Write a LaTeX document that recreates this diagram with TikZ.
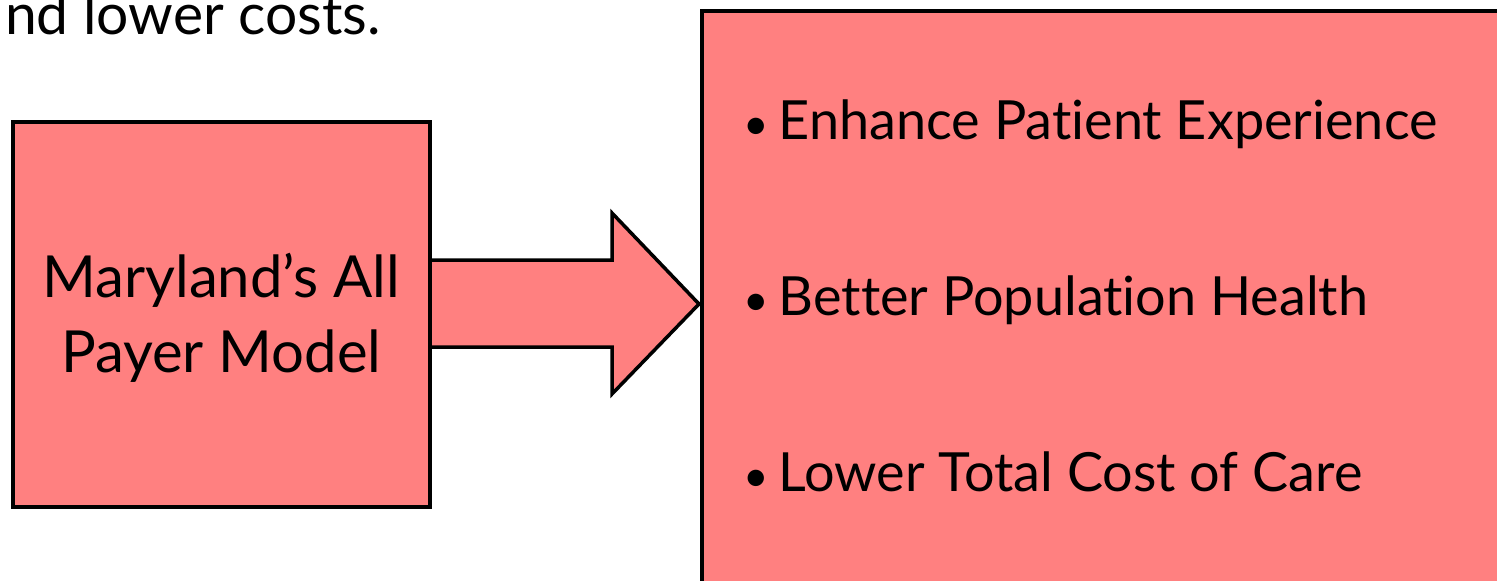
\documentclass[tikz,border=0pt]{standalone}
\usepackage{fontspec}
\setmainfont{Lato}[Ligatures={NoCommon,NoRare}]
\definecolor{boxred}{RGB}{255,128,128}
\begin{document}
\begin{tikzpicture}[x=1pt,y=-1pt,
  box/.style={draw=black,line width=3.5pt,fill=boxred,inner sep=0pt},
  bigtext/.style={font=\fontsize{58}{75}\selectfont,align=center},
  bullettext/.style={font=\fontsize{54}{60}\selectfont,anchor=base west,inner sep=0pt},
  toptext/.style={font=\fontsize{57}{60}\selectfont,anchor=base east,inner sep=0pt}]
\newcommand{\bul}{{\fontsize{44}{44}\selectfont\textbullet}\hspace{10pt}}
\useasboundingbox (0,0) rectangle (1497,581);
\clip (0,0) rectangle (1497,581);
\node[toptext] (top) at (381,34) {nd lower costs.};
\node[box,anchor=north west,minimum width=900,minimum height=700] (goals) at (700,9) {};
\coordinate (tip) at (699,304);
\draw[box,line join=miter] (428,260) -- (612,260) -- (612,213) -- (tip) -- (612,394) -- (612,347) -- (428,347) -- cycle;
\node[box,anchor=north west,minimum width=417,minimum height=385] (model) at (11,120) {};
\node[bigtext] (modellabel) at ([yshift=-4pt]model.center) {Maryland’s All\\Payer Model};
\node[bullettext] (b1) at (743,139) {\bul Enhance Patient Experience};
\node[bullettext] (b2) at (743,315) {\bul Better Population Health};
\node[bullettext] (b3) at (743,491) {\bul Lower Total Cost of Care};
\end{tikzpicture}
\end{document}
